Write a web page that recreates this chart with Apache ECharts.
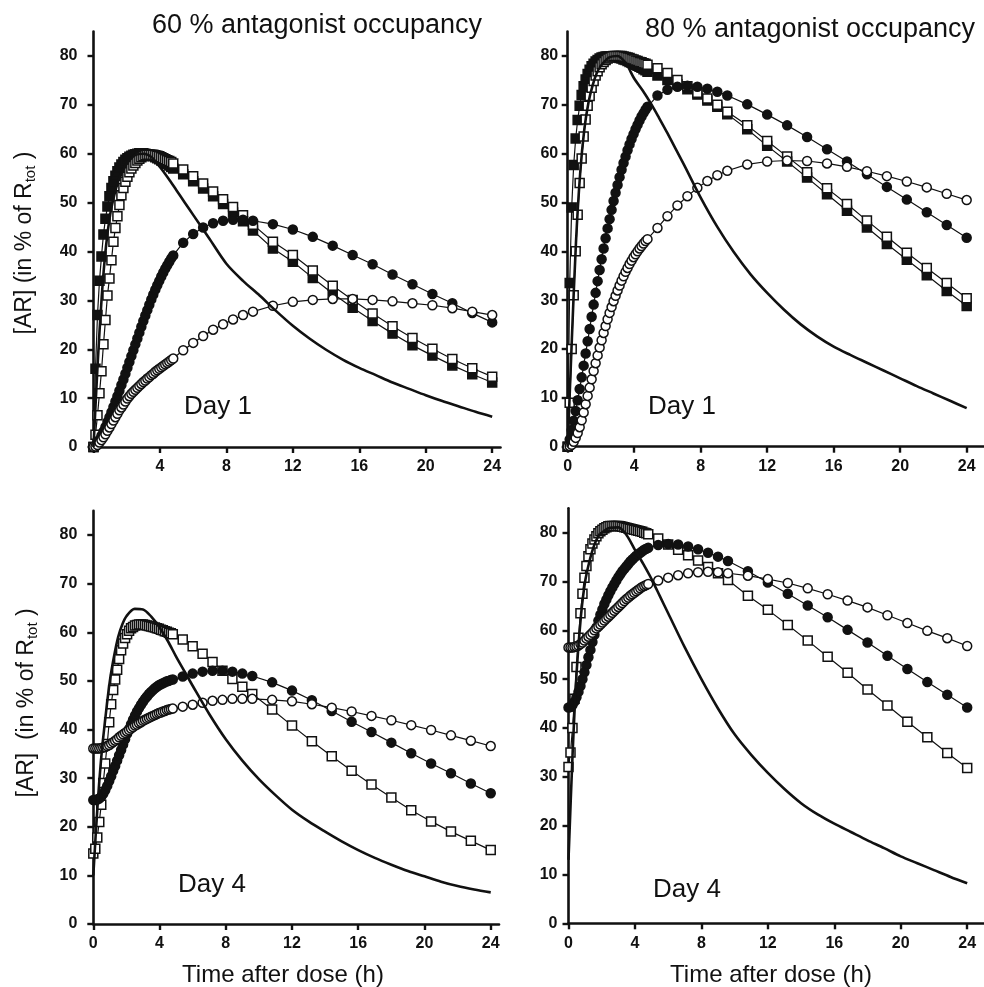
<!DOCTYPE html>
<html><head><meta charset="utf-8">
<script src="https://cdn.jsdelivr.net/npm/echarts@6/dist/echarts.min.js"></script>
<style>html,body{margin:0;padding:0;background:#fff}#c{width:984px;height:987px}</style>
</head><body><div id="c"></div>
<script>
// marker sampling times (h): 0.12 h steps to 4.8 h, then 0.6 h to 9.6 h, then 1.2 h to 24 h
const T = [0,0.12,0.24,0.36,0.48,0.6,0.72,0.84,0.96,1.08,1.2,
  1.32,1.44,1.56,1.68,1.8,1.92,2.04,2.16,2.28,2.4,
  2.52,2.64,2.76,2.88,3,3.12,3.24,3.36,3.48,3.6,
  3.72,3.84,3.96,4.08,4.2,4.32,4.44,4.56,4.68,4.8,
  5.4,6,6.6,7.2,7.8,8.4,9,9.6,
  10.8,12,13.2,14.4,15.6,16.8,18,19.2,20.4,21.6,22.8,24];
// solid-curve sampling times (h)
const LT = [0,0.25,0.5,0.75,1,1.25,1.5,1.75,2,2.5,3,3.5,4,4.5,5,5.5,6,7,8,9,10,11,12,13,14,15,16,17,18,19,20,21,22,23,24];

const X_TICKS = [0,4,8,12,16,20,24];
const X_LABELS_TL = [4,8,12,16,20,24];
const Y_TICKS = [0,10,20,30,40,50,60,70,80];

// ---- 60 % occupancy, Day 1
const TL_S  = [0,17,31,41,47.5,51.5,54.5,56.6,58,59.7,60,59.3,57.3,55,52.5,50,47.5,42.5,37.5,34,31,27.8,24.8,22.2,19.9,17.9,16.2,14.7,13.2,11.9,10.6,9.4,8.3,7.2,6.2];
const TL_FS = [0,16,27,34,39,43.5,46.7,49.2,51.3,53,54.4,
  55.5,56.4,57.2,57.8,58.3,58.8,59.1,59.4,59.6,59.8,
  59.9,60,60.1,60.1,60.1,60,59.9,59.8,59.7,59.5,
  59.3,59.1,58.9,58.6,58.4,58.1,57.9,57.6,57.3,57,
  55.8,54.4,52.9,51.3,49.7,48,46.2,44.3,
  40.6,37.9,34.6,31.4,28.5,25.8,23.2,20.8,18.7,16.7,14.9,13.2];
const TL_OS = [0,2.5,6.5,11,15.5,21,26,31,34.5,38.2,42,
  44.8,47.2,49.5,51.5,53,54.3,55.3,56.2,57,57.6,
  58.1,58.6,59,59.3,59.5,59.7,59.8,59.8,59.8,59.8,
  59.7,59.6,59.5,59.3,59.1,58.9,58.7,58.5,58.3,58,
  56.8,55.4,53.9,52.3,50.7,49.1,47.4,45.5,
  42,39.3,36.1,33,30.1,27.3,24.7,22.3,20.1,18,16.1,14.4];
const TL_FC = [0,0.3,0.8,1.5,2.3,3.2,4.1,5.1,6.1,7.1,8.2,
  9.3,10.4,11.5,12.7,13.8,15,16.2,17.4,18.6,19.8,
  21,22.2,23.4,24.6,25.8,26.9,28,29.1,30.2,31.2,
  32.2,33.1,34,34.9,35.7,36.5,37.2,37.9,38.6,39.2,
  41.8,43.6,44.9,45.8,46.3,46.5,46.5,46.3,
  45.6,44.5,43,41.2,39.3,37.4,35.3,33.3,31.3,29.4,27.4,25.5];
const TL_OC = [0,0.1,0.4,0.9,1.4,2,2.6,3.3,4,4.7,5.4,
  6.1,6.8,7.5,8.1,8.7,9.3,9.9,10.4,10.9,11.3,
  11.7,12.1,12.5,12.9,13.3,13.6,14,14.3,14.7,15,
  15.4,15.7,16,16.3,16.6,16.9,17.2,17.5,17.8,18.1,
  19.8,21.3,22.7,24,25.1,26.1,27,27.7,
  28.9,29.7,30.1,30.3,30.3,30.1,29.8,29.4,29,28.4,27.7,27];

// ---- 80 % occupancy, Day 1
const TR_S  = [0,22,42,56,65,70.5,74,76.5,78,79.7,80,78.5,75.4,73,70.3,67.3,64.2,57.7,51,45,39.8,35.3,31.5,28.1,25.1,22.6,20.5,18.8,17.2,15.6,14,12.4,10.9,9.4,7.9];
const TR_FS = [0,33.5,49,57.7,63.1,66.9,69.8,72,73.8,75.2,76.3,
  77.2,77.9,78.4,78.9,79.2,79.5,79.7,79.8,79.9,79.9,
  79.9,79.9,79.9,79.8,79.7,79.6,79.5,79.3,79.2,79,
  78.8,78.6,78.4,78.2,78,77.8,77.6,77.3,77.1,76.8,
  76,75.1,74.2,73.2,72.1,70.9,69.6,68.1,
  65,61.6,58.4,55.1,51.7,48.3,44.9,41.5,38.3,35.1,31.9,28.8];
const TR_OS = [0,9,20,31,40,47.5,54,59,63.5,67,69.8,
  71.8,73.5,74.9,76,76.9,77.7,78.3,78.8,79.2,79.5,
  79.7,79.9,80,80,80,80,80,79.9,79.8,79.7,
  79.6,79.4,79.3,79.1,79,78.8,78.7,78.5,78.4,78.2,
  77.5,76.5,75.1,73.8,72.5,71.3,70,68.6,
  65.8,62.6,59.4,56.2,52.9,49.7,46.3,43,39.7,36.6,33.5,30.4];
const TR_FC = [0,1.5,3.4,5.3,7.3,9.5,11.8,14.2,16.6,19.1,21.6,
  24.1,26.6,29.1,31.5,33.9,36.2,38.4,40.6,42.7,44.7,
  46.6,48.5,50.3,52,53.6,55.2,56.7,58.1,59.4,60.7,
  61.9,63,64,65,65.9,66.8,67.6,68.3,69,69.6,
  71.9,73.1,73.7,73.9,73.7,73.3,72.7,71.9,
  70.1,68,65.8,63.4,60.9,58.4,55.8,53.2,50.6,48,45.4,42.8];
const TR_OC = [0,0.1,0.4,1,1.8,2.8,4,5.4,7,8.7,10.4,
  12.1,13.8,15.5,17.1,18.7,20.3,21.8,23.3,24.7,26.1,
  27.4,28.6,29.8,30.9,32,33,34,34.9,35.8,36.6,
  37.4,38.1,38.8,39.4,40,40.6,41.1,41.6,42.1,42.5,
  44.8,47.2,49.4,51.3,53,54.4,55.6,56.5,
  57.8,58.4,58.6,58.5,58,57.3,56.4,55.4,54.3,53.1,51.8,50.5];

// ---- 60 % occupancy, Day 4
const BL_S  = [10,24,35,43,50,55,59,61.6,63.3,64.8,64.7,63.2,61,58.2,55,52,49,43.2,38,33.6,29.8,26.5,23.5,21.1,19,17,15.2,13.6,12.2,10.9,9.8,8.7,7.8,7.1,6.5];
const BL_OS = [14.5,15.5,17.8,21,24.5,29,33,37,41.5,45.2,48.1,
  50.3,52.3,54.5,56.3,57.7,58.8,59.6,60.3,60.8,61.1,
  61.4,61.5,61.6,61.6,61.6,61.5,61.4,61.3,61.2,61.1,
  61,60.8,60.7,60.5,60.4,60.2,60.1,59.9,59.8,59.6,
  58.5,57.1,55.6,53.9,52.1,50.4,48.8,47.3,
  44.1,40.8,37.6,34.5,31.5,28.7,26,23.4,21.1,19,17.1,15.2];
const BL_FC = [25.5,25.5,25.6,25.8,26.2,26.8,27.5,28.4,29.4,30.4,31.5,
  32.5,33.6,34.7,35.8,36.9,38,39.1,40.1,41.1,42,
  42.9,43.7,44.4,45.1,45.7,46.3,46.8,47.3,47.7,48.1,
  48.5,48.8,49.1,49.3,49.5,49.7,49.9,50,50.2,50.3,
  50.9,51.5,51.9,52.1,52.1,51.9,51.5,51,
  49.7,48,46,43.8,41.6,39.5,37.3,35.1,33,31,28.9,26.9];
const BL_OC = [36.1,36.1,36.1,36.1,36.2,36.3,36.4,36.6,36.8,37.1,37.4,
  37.7,38,38.4,38.7,39,39.3,39.6,39.9,40.2,40.5,
  40.8,41,41.3,41.5,41.8,42,42.2,42.4,42.6,42.8,
  43,43.2,43.4,43.5,43.7,43.8,44,44.1,44.2,44.3,
  44.7,45.1,45.5,45.9,46.1,46.3,46.3,46.3,
  46.1,45.8,45.2,44.5,43.7,42.8,41.9,40.9,39.9,38.8,37.7,36.6];

// ---- 80 % occupancy, Day 4
const BR_S  = [13,35,52,63,70,74,77,79,80,81,81.1,79.5,76.5,73.6,70.5,67,63.5,56.5,50,44,38.7,34.5,30.8,27.5,24.6,22.3,20.4,18.7,17,15.4,13.7,12.3,10.9,9.5,8.2];
const BR_OS = [32,35,40,46,52.5,58.5,63.5,67.5,70.8,73.2,75.2,
  76.6,77.8,78.6,79.3,79.9,80.3,80.6,80.9,81.1,81.3,
  81.4,81.4,81.4,81.4,81.4,81.3,81.2,81.1,81,80.9,
  80.8,80.7,80.6,80.5,80.4,80.3,80.2,80,79.9,79.7,
  78.8,77.6,76.5,75.4,74.3,73,71.7,70.3,
  67.1,64.2,61.1,57.9,54.6,51.3,47.9,44.6,41.3,38.1,34.9,31.8];
const BR_FC = [44.2,44.3,44.7,45.4,46.3,47.4,48.6,50,51.4,52.9,54.5,
  56,57.6,59.1,60.6,62,63.2,64.3,65.4,66.3,67.2,
  68,68.8,69.5,70.2,70.9,71.5,72.1,72.6,73.1,73.6,
  74.1,74.5,74.9,75.3,75.6,75.9,76.2,76.5,76.7,76.9,
  77.5,77.7,77.6,77.2,76.6,75.9,75.1,74.2,
  72.1,69.8,67.5,65.1,62.7,60.1,57.5,54.8,52.1,49.4,46.8,44.2];
const BR_OC = [56.5,56.5,56.5,56.6,56.7,56.9,57.2,57.5,57.9,58.3,58.7,
  59.1,59.5,60,60.4,60.8,61.2,61.6,62,62.4,62.8,
  63.2,63.6,64,64.4,64.8,65.2,65.6,66,66.4,66.7,
  67.1,67.4,67.7,68,68.3,68.6,68.9,69.1,69.3,69.5,
  70.2,70.8,71.3,71.7,71.9,72,71.9,71.7,
  71.2,70.5,69.7,68.6,67.4,66.1,64.7,63.1,61.5,59.9,58.4,56.8];

const FONT = '"Liberation Sans", Arial, Helvetica, sans-serif';
const INK = '#111';

function pairs(xs, ys){ return xs.map((x,i)=>[x, ys[i]]); }

const GRIDS = [
  {left:93.5, top:31.6, width:407, height:415.4},
  {left:567.7, top:31.6, width:415.6, height:415.1},
  {left:93.3, top:510.7, width:405.7, height:413.3},
  {left:568.5, top:508.3, width:415.3, height:415}
];
const XMAX = [24.5, 25, 24.5, 25];
const YMARGIN = [16, 9.5, 16, 11];

const xAxes = GRIDS.map((g,i)=>({
  type:'value', gridIndex:i, min:0, max:XMAX[i], interval:4,
  axisLine:{show:true, onZero:false, lineStyle:{color:INK, width:2.6}},
  axisTick:{show:true, length:6, customValues:X_TICKS, lineStyle:{color:INK, width:2.4}},
  axisLabel:{customValues: i===0 ? X_LABELS_TL : X_TICKS, margin:12, fontSize:16, fontWeight:'bold', color:INK, fontFamily:FONT},
  splitLine:{show:false}
}));
const yAxes = GRIDS.map((g,i)=>({
  type:'value', gridIndex:i, min:0, max:85, interval:10,
  axisLine:{show:true, onZero:false, lineStyle:{color:INK, width:2.6}},
  axisTick:{show:true, length:6, customValues:Y_TICKS, lineStyle:{color:INK, width:2.4}},
  axisLabel:{customValues:Y_TICKS, margin:YMARGIN[i], fontSize:16, fontWeight:'bold', color:INK, fontFamily:FONT},
  splitLine:{show:false}
}));

function markers(g, ys, sym, filled){
  return {type:'line', xAxisIndex:g, yAxisIndex:g, data:pairs(T, ys),
    symbol:sym, symbolSize:9, showSymbol:true, silent:true, z:2,
    lineStyle:{color:INK, width:1.2},
    itemStyle:{color: filled ? INK : '#fff', borderColor:INK, borderWidth:1.5},
    emphasis:{disabled:true}};
}
function solid(g, ys){
  return {type:'line', xAxisIndex:g, yAxisIndex:g, data:pairs(LT, ys),
    symbol:'none', showSymbol:false, smooth:0.3, silent:true, z:3,
    lineStyle:{color:INK, width:2.6}, emphasis:{disabled:true}};
}

const series = [
  markers(0, TL_FS, 'rect', true), markers(0, TL_OS, 'rect', false),
  markers(0, TL_FC, 'circle', true), markers(0, TL_OC, 'circle', false), solid(0, TL_S),
  markers(1, TR_FS, 'rect', true), markers(1, TR_OS, 'rect', false),
  markers(1, TR_FC, 'circle', true), markers(1, TR_OC, 'circle', false), solid(1, TR_S),
  markers(2, BL_OS, 'rect', false), markers(2, BL_FC, 'circle', true),
  markers(2, BL_OC, 'circle', false), solid(2, BL_S),
  markers(3, BR_OS, 'rect', false), markers(3, BR_FC, 'circle', true),
  markers(3, BR_OC, 'circle', false), solid(3, BR_S)
];

function txt(x, y, s, size){
  return {type:'text', x:x, y:y, silent:true,
    style:{text:s, fontSize:size, fontFamily:FONT, fill:INK,
      align:'center', verticalAlign:'middle', textAlign:'center', textVerticalAlign:'middle'}};
}
function yName(x, y, main){
  return {type:'text', x:x, y:y, rotation:Math.PI/2, silent:true,
    style:{text:'{a|'+main+'}{s|tot}{a| )}', fontFamily:FONT, fill:INK,
      align:'center', verticalAlign:'middle', textAlign:'center', textVerticalAlign:'middle',
      rich:{
        a:{fontSize:23, fontFamily:FONT, fill:INK, color:INK, lineHeight:26},
        s:{fontSize:15, fontFamily:FONT, fill:INK, color:INK, lineHeight:8, verticalAlign:'bottom'}
      }}};
}

const graphic = [
  txt(317, 26, '60 % antagonist occupancy', 27),
  txt(810, 30, '80 % antagonist occupancy', 27),
  txt(218, 407, 'Day 1', 26),
  txt(682, 407, 'Day 1', 26),
  txt(212, 885, 'Day 4', 26),
  txt(687, 890, 'Day 4', 26),
  txt(283, 975, 'Time after dose (h)', 24),
  txt(771, 975, 'Time after dose (h)', 24),
  yName(25, 243, '[AR] (in % of R'),
  yName(27, 703, '[AR]  (in % of R')
];

const chart = echarts.init(document.getElementById('c'), null, {renderer:'canvas'});
chart.setOption({
  animation:false,
  backgroundColor:'#fff',
  grid: GRIDS.map(g=>Object.assign({containLabel:false, outerBoundsMode:'none'}, g)),
  xAxis: xAxes,
  yAxis: yAxes,
  series: series,
  graphic: graphic
});
</script>
</body></html>
